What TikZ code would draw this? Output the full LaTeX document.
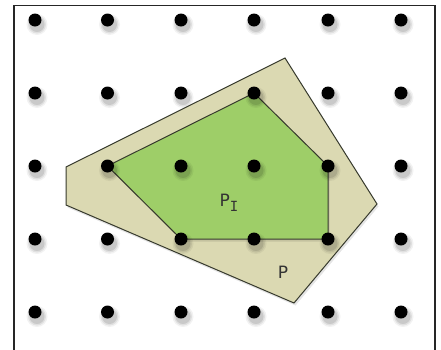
\documentclass[tikz,border=0pt]{standalone}
\usepackage{fontspec}
\setmainfont{DejaVu Sans}
\newfontfamily\monofam{DejaVu Sans Mono}
\definecolor{outerfill}{RGB}{219,217,178}
\definecolor{innerfill}{RGB}{158,206,104}
\definecolor{edgecol}{RGB}{55,58,45}
\begin{document}
\begin{tikzpicture}[x=1pt,y=-1pt,
  dotnode/.style={circle,fill=black,inner sep=0pt,minimum size=13pt},
  polyedge/.style={draw=edgecol,line width=1pt,line join=miter},
  lbl/.style={font=\fontsize{17}{17}\selectfont,text=black!80,inner sep=0pt}]
\useasboundingbox (0,0) rectangle (441,349);
\fill[white] (0,0) rectangle (441,349);
% frame
\draw[line width=1.5pt,black!85] (14,352) -- (14,5.5) -- (435,5.5) -- (435,352);
% outer polygon P
\coordinate (p1) at (66,167);
\coordinate (p2) at (285,58);
\coordinate (p3) at (377,204);
\coordinate (p4) at (294,303);
\coordinate (p5) at (66,205);
\fill[black,opacity=0.10] ([shift={(1.5,2.5)}]p1) -- ([shift={(1.5,2.5)}]p2) -- ([shift={(1.5,2.5)}]p3) -- ([shift={(1.5,2.5)}]p4) -- ([shift={(1.5,2.5)}]p5) -- cycle;
\filldraw[polyedge,fill=outerfill] (p1) -- (p2) -- (p3) -- (p4) -- (p5) -- cycle;
% dot positions
\foreach \i/\x in {0/35,1/107.5,2/181,3/254,4/328,5/401}{
  \foreach \j/\y in {0/20,1/93,2/166,3/239,4/312}{
    \coordinate (c\i\j) at (\x,\y);
  }
}
% inner polygon P_I
\fill[black,opacity=0.10] ([shift={(1.5,2.5)}]c12) -- ([shift={(1.5,2.5)}]c31) -- ([shift={(1.5,2.5)}]c42) -- ([shift={(1.5,2.5)}]c43) -- ([shift={(1.5,2.5)}]c23) -- cycle;
\filldraw[polyedge,fill=innerfill] (c12) -- (c31) -- (c42) -- (c43) -- (c23) -- cycle;
% dot shadows and dots
\foreach \i in {0,...,5}{
  \foreach \j in {0,...,4}{
    \foreach \r/\o in {10.5/0.05,9/0.07,7.5/0.10}{
      \fill[black,opacity=\o] ([shift={(2,4.5)}]c\i\j) circle (\r);
    }
    \node[dotnode] (d\i\j) at (c\i\j) {};
  }
}
% labels
\node[lbl] (lpi) at (229,203) {P\raisebox{-0.6ex}{\monofam\fontsize{14}{14}\selectfont I}};
\node[lbl] (lp) at (283,272) {P};
\end{tikzpicture}
\end{document}
